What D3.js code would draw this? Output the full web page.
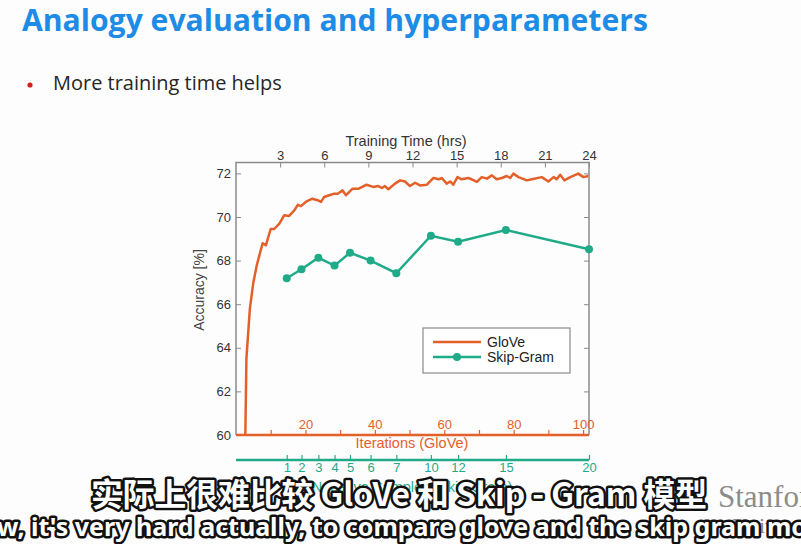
<!DOCTYPE html>
<html>
<head>
<meta charset="utf-8">
<script src="https://cdn.jsdelivr.net/npm/d3@7"></script>
<style>
  body { margin: 0; background: #fdfdfd; }
  svg { display: block; }
  .tick text { font-family: "Liberation Sans", Arial, sans-serif; font-size: 13px; }
</style>
</head>
<body>
<script>
// GloVe accuracy by iteration
var gloveIter = [2.6, 3, 4, 5, 6, 7, 7.7, 8.6, 10, 11, 12.5, 13.9, 15.3, 16.8, 17.8, 18.7, 20.2, 22, 23.5, 24.5, 25.4, 26.9, 28.3, 29.3, 30.7, 31.7, 33.6,
  35.4, 37.6, 39.5, 41, 42, 42.9, 43.9, 45.8, 47.3, 48.7, 50.1, 51.6, 53, 55, 56.9, 58.4, 59.3, 60.7, 61.7, 62.6, 63.8, 65,
  66.9, 67.9, 69.4, 70.8, 72.3, 73.7, 75.1, 76.6, 78, 79, 79.9, 81.4, 83.8, 85.2, 88.1, 90, 91.5, 92.4, 93.4, 94.6, 96.3, 98.6, 100.1, 101.5]
var gloveAcc = [59, 63.5, 65.8, 67.0, 67.8, 68.4, 68.8, 68.7, 69.45, 69.45, 69.7, 70.08, 70.05, 70.3, 70.56, 70.5, 70.7, 70.84, 70.77, 70.69, 70.92, 71.0, 71.07, 71.07, 71.22, 71.0, 71.3,
  71.3, 71.48, 71.38, 71.42, 71.33, 71.42, 71.27, 71.53, 71.68, 71.63, 71.42, 71.57, 71.45, 71.48, 71.79, 71.73, 71.79, 71.53, 71.63, 71.48, 71.83, 71.73,
  71.79, 71.73, 71.61, 71.83, 71.76, 71.91, 71.73, 71.79, 71.88, 71.79, 71.99, 71.83, 71.68, 71.73, 71.83, 71.63, 71.83, 71.73, 71.94, 71.68, 71.83, 71.99, 71.83, 71.88]

// Skip-Gram: negative samples, training time (hrs), accuracy
var negSamples = [1, 2, 3, 4, 5, 6, 7, 10, 12, 15, 20]
var sgHours = [3.45, 4.45, 5.6, 6.7, 7.75, 9.15, 10.9, 13.25, 15.1, 18.35, 24]
var sgAcc = [67.19, 67.60, 68.13, 67.77, 68.36, 68.0, 67.42, 69.14, 68.87, 69.40, 68.52]

var hourTicks = [3, 6, 9, 12, 15, 18, 21, 24]
var iterTicks = [10, 20, 30, 40, 50, 60, 70, 80, 90, 100]
var accTicks = [60, 62, 64, 66, 68, 70, 72]

var orange = '#e4602a'
var green = '#1faa88'
var frame = '#8a8a8a'

var plot = {left: 236, right: 589, top: 162.5, bottom: 435}

var svg = d3.select('body').append('svg')
  .attr('width', 801)
  .attr('height', 544)

svg.append('rect').attr('width', 801).attr('height', 544).attr('fill', '#fdfdfd')

function fit (sel, target) {
  var w = sel.node().getComputedTextLength()
  var fs = parseFloat(sel.attr('font-size'))
  sel.attr('font-size', fs * target / w)
}

// slide header
var title = svg.append('text')
  .attr('x', 22).attr('y', 31)
  .attr('font-family', '"Open Sans", sans-serif')
  .attr('font-weight', 700)
  .attr('font-size', 28)
  .attr('fill', '#1e8ce6')
  .text('Analogy evaluation and hyperparameters')
fit(title, 626)

svg.append('circle').attr('cx', 30).attr('cy', 85).attr('r', 2.6).attr('fill', '#d42020')
var bullet = svg.append('text')
  .attr('x', 53).attr('y', 90)
  .attr('font-family', '"Open Sans", sans-serif')
  .attr('font-size', 18)
  .attr('fill', '#262626')
  .text('More training time helps')
fit(bullet, 229)

var xIter = d3.scaleLinear().domain([0, 101.7]).range([plot.left, plot.right])
var xHrs = d3.scaleLinear().domain([0, 24]).range([plot.left, plot.right])
var y = d3.scaleLinear().domain([60, 72.5]).range([plot.bottom, plot.top])

svg.append('defs').append('clipPath').attr('id', 'plotClip')
  .append('rect')
  .attr('x', plot.left).attr('y', plot.top)
  .attr('width', plot.right - plot.left).attr('height', plot.bottom - plot.top)

// frame
svg.append('path')
  .attr('d', 'M' + plot.left + ',' + plot.bottom + 'V' + plot.top + 'H' + plot.right + 'V' + plot.bottom)
  .attr('fill', 'none').attr('stroke', frame).attr('stroke-width', 1.5)

// left axis
var gLeft = svg.append('g')
  .attr('transform', 'translate(' + plot.left + ',0)')
  .call(d3.axisLeft(y).tickValues(accTicks).tickSizeInner(-5).tickSizeOuter(0).tickPadding(5))
gLeft.select('.domain').remove()
gLeft.selectAll('.tick line').attr('stroke', frame)
gLeft.selectAll('.tick text').attr('fill', '#333')

var gRight = svg.append('g')
  .attr('transform', 'translate(' + plot.right + ',0)')
  .call(d3.axisRight(y).tickValues(accTicks).tickSizeInner(-5).tickSizeOuter(0).tickFormat(''))
gRight.select('.domain').remove()
gRight.selectAll('.tick line').attr('stroke', frame)

// top axis: training time
var gTop = svg.append('g')
  .attr('transform', 'translate(0,' + plot.top + ')')
  .call(d3.axisTop(xHrs).tickValues(hourTicks).tickSizeInner(-5).tickSizeOuter(0).tickPadding(3))
gTop.select('.domain').remove()
gTop.selectAll('.tick line').attr('stroke', frame)
gTop.selectAll('.tick text').attr('fill', '#333')

svg.append('text')
  .attr('x', 406).attr('y', 146)
  .attr('text-anchor', 'middle')
  .attr('font-family', '"Liberation Sans", Arial, sans-serif')
  .attr('font-size', 14.5)
  .attr('fill', '#333')
  .text('Training Time (hrs)')

svg.append('text')
  .attr('transform', 'translate(204,290) rotate(-90)')
  .attr('text-anchor', 'middle')
  .attr('font-family', '"Liberation Sans", Arial, sans-serif')
  .attr('font-size', 14)
  .attr('fill', '#444')
  .text('Accuracy [%]')

// bottom axis: GloVe iterations (labels sit inside the plot)
var gIter = svg.append('g')
  .attr('transform', 'translate(0,' + plot.bottom + ')')
  .call(d3.axisTop(xIter).tickValues(iterTicks).tickSizeInner(5).tickSizeOuter(0).tickPadding(1)
    .tickFormat(function (d) { return d % 20 === 0 ? d : '' }))
gIter.select('.domain').remove()
gIter.selectAll('.tick line').attr('stroke', orange).attr('stroke-width', 1.2)
gIter.selectAll('.tick text').attr('fill', orange)
svg.append('line')
  .attr('x1', plot.left).attr('x2', plot.right)
  .attr('y1', plot.bottom).attr('y2', plot.bottom)
  .attr('stroke', orange).attr('stroke-width', 2.5)

svg.append('text')
  .attr('x', 412).attr('y', 448)
  .attr('text-anchor', 'middle')
  .attr('font-family', '"Liberation Sans", Arial, sans-serif')
  .attr('font-size', 14.5)
  .attr('fill', orange)
  .text('Iterations (GloVe)')

// green axis: negative samples
var gNeg = svg.append('g')
  .attr('transform', 'translate(0,460)')
  .call(d3.axisBottom(xHrs).tickValues(sgHours).tickSizeInner(-5).tickSizeOuter(0).tickPadding(3)
    .tickFormat(function (d, i) { return negSamples[i] }))
gNeg.select('.domain').remove()
gNeg.selectAll('.tick line').attr('stroke', green).attr('stroke-width', 1.2)
gNeg.selectAll('.tick text').attr('fill', green)
svg.append('line')
  .attr('x1', plot.left).attr('x2', plot.right)
  .attr('y1', 460).attr('y2', 460)
  .attr('stroke', green).attr('stroke-width', 2.5)

svg.append('text')
  .attr('x', 412).attr('y', 492)
  .attr('text-anchor', 'middle')
  .attr('font-family', '"Liberation Sans", Arial, sans-serif')
  .attr('font-size', 14.5)
  .attr('fill', green)
  .text('Negative Samples (Skip-Gram)')

// series
var gloveLine = d3.line()
  .x(function (d, i) { return xIter(gloveIter[i]) })
  .y(function (d) { return y(d) })

svg.append('path')
  .datum(gloveAcc)
  .attr('clip-path', 'url(#plotClip)')
  .attr('d', gloveLine)
  .attr('fill', 'none')
  .attr('stroke', orange)
  .attr('stroke-width', 2.5)
  .attr('stroke-linejoin', 'round')

var sgLine = d3.line()
  .x(function (d, i) { return xHrs(sgHours[i]) })
  .y(function (d) { return y(d) })

svg.append('path')
  .datum(sgAcc)
  .attr('d', sgLine)
  .attr('fill', 'none')
  .attr('stroke', green)
  .attr('stroke-width', 2.5)

svg.selectAll('circle.sg')
  .data(sgAcc)
  .enter().append('circle')
  .attr('class', 'sg')
  .attr('cx', function (d, i) { return xHrs(sgHours[i]) })
  .attr('cy', function (d) { return y(d) })
  .attr('r', 4)
  .attr('fill', green)

// legend
var legend = svg.append('g').attr('transform', 'translate(423,328)')
legend.append('rect')
  .attr('width', 147).attr('height', 45)
  .attr('fill', '#fff').attr('stroke', frame).attr('stroke-width', 1.2)
legend.append('line')
  .attr('x1', 10).attr('x2', 58).attr('y1', 14).attr('y2', 14)
  .attr('stroke', orange).attr('stroke-width', 2.5)
legend.append('line')
  .attr('x1', 10).attr('x2', 58).attr('y1', 29).attr('y2', 29)
  .attr('stroke', green).attr('stroke-width', 2.5)
legend.append('circle').attr('cx', 34).attr('cy', 29).attr('r', 4).attr('fill', green)
legend.selectAll('text.lab')
  .data(['GloVe', 'Skip-Gram'])
  .enter().append('text')
  .attr('x', 64)
  .attr('y', function (d, i) { return 19 + i * 15 })
  .attr('font-family', '"Liberation Sans", Arial, sans-serif')
  .attr('font-size', 14)
  .attr('fill', '#222')
  .text(function (d) { return d })

// watermark
svg.append('text')
  .attr('x', 718).attr('y', 507)
  .attr('font-family', '"Liberation Serif", serif')
  .attr('font-size', 31)
  .attr('fill', '#8c8c8c')
  .text('Stanford')
svg.append('text')
  .attr('x', 732).attr('y', 533)
  .attr('font-family', '"Liberation Serif", serif')
  .attr('font-size', 22)
  .attr('fill', '#8c8c8c')
  .text('University')

// subtitles
var zh = svg.append('text')
  .attr('x', 399).attr('y', 506)
  .attr('text-anchor', 'middle')
  .attr('font-family', '"Noto Sans CJK SC", sans-serif')
  .attr('font-weight', 700)
  .attr('font-size', 29)
  .attr('fill', '#fff')
  .attr('stroke', '#111')
  .attr('stroke-width', 5)
  .attr('stroke-linejoin', 'round')
  .attr('paint-order', 'stroke')
  .text('实际上很难比较 GloVe 和 Skip - Gram 模型')
fit(zh, 616)

svg.append('text')
  .attr('x', -3).attr('y', 536)
  .attr('font-family', '"Noto Sans", sans-serif')
  .attr('font-weight', 700)
  .attr('font-size', 25)
  .attr('fill', '#fff')
  .attr('stroke', '#111')
  .attr('stroke-width', 5)
  .attr('stroke-linejoin', 'round')
  .attr('paint-order', 'stroke')
  .text("w, it's very hard actually, to compare glove and the skip gram models")
</script>
</body>
</html>
